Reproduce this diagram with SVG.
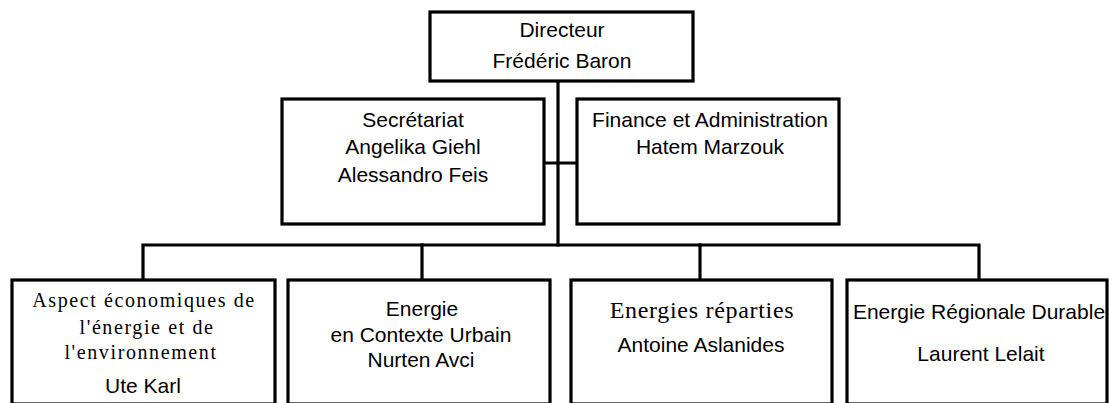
<svg xmlns="http://www.w3.org/2000/svg" width="1109" height="403" viewBox="0 0 1109 403">
<style>
.box{fill:#fff;stroke:#000;stroke-width:3.2}
.con{fill:none;stroke:#000;stroke-width:3.2;stroke-linecap:square}
.s{font-family:"Liberation Sans",Arial,sans-serif;font-size:21px;fill:#000;text-anchor:middle}
.t{font-family:"Liberation Serif","Times New Roman",serif;font-size:20px;letter-spacing:1.6px;fill:#000;text-anchor:middle}
.t2{font-family:"Liberation Serif","Times New Roman",serif;font-size:24px;letter-spacing:0.7px;fill:#000;text-anchor:middle}
</style>
<rect width="1109" height="403" fill="#fff"/>
<g id="connectors">
<path class="con" d="M558 81V245"/>
<path class="con" d="M544 163H577"/>
<path class="con" d="M143 280V245H979V280"/>
<path class="con" d="M422 245V280"/>
<path class="con" d="M700 245V280"/>
</g>
<g id="directeur">
<rect class="box" x="430" y="12" width="263" height="69"/>
<text class="s" x="562" y="37">Directeur</text>
<text class="s" x="562" y="68">Frédéric Baron</text>
</g>
<g id="secretariat">
<rect class="box" x="282" y="99" width="262" height="125"/>
<text class="s" x="413" y="127">Secrétariat</text>
<text class="s" x="413" y="154">Angelika Giehl</text>
<text class="s" x="413" y="182">Alessandro Feis</text>
</g>
<g id="finance">
<rect class="box" x="577" y="99" width="262" height="125"/>
<text class="s" x="710" y="127">Finance et Administration</text>
<text class="s" x="710" y="154">Hatem Marzouk</text>
</g>
<g id="aspect">
<rect class="box" x="12" y="280" width="263" height="124"/>
<text class="t" x="144" y="307">Aspect économiques de</text>
<text class="t" x="147" y="334">l'énergie et de</text>
<text class="t" x="141" y="359">l'environnement</text>
<text class="s" x="143" y="393">Ute Karl</text>
</g>
<g id="urbain">
<rect class="box" x="288" y="280" width="262" height="124"/>
<text class="s" x="422" y="316">Energie</text>
<text class="s" x="421" y="342">en Contexte Urbain</text>
<text class="s" x="421" y="367">Nurten Avci</text>
</g>
<g id="reparties">
<rect class="box" x="571" y="280" width="261" height="124"/>
<text class="t2" x="702" y="318">Energies réparties</text>
<text class="s" x="701" y="352">Antoine Aslanides</text>
</g>
<g id="regionale">
<rect class="box" x="847" y="280" width="260" height="124"/>
<text class="s" x="979" y="319">Energie Régionale Durable</text>
<text class="s" x="981" y="361">Laurent Lelait</text>
</g>
</svg>
